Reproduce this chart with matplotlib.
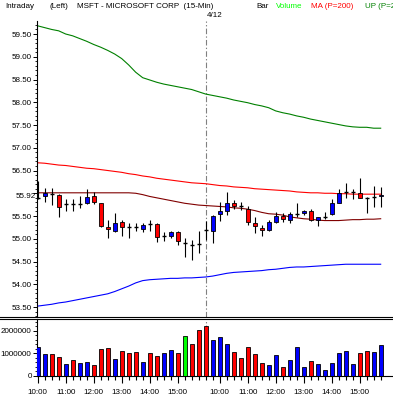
import numpy as np
import matplotlib
matplotlib.use("Agg")
import matplotlib.pyplot as plt
from matplotlib.lines import Line2D
from matplotlib.ticker import MultipleLocator, FixedLocator

plt.rcParams["font.family"] = ["Liberation Sans", "DejaVu Sans"]
plt.rcParams["font.size"] = 5.8

# 15-minute bars, two sessions (4/11 10:00-15:45, 4/12 09:30-15:45)
opens = [55.90, 55.93, 55.99, 55.96, 55.76, 55.76, 55.76, 55.78, 55.94, 55.78,
         55.26, 55.18, 55.36, 55.26, 55.25, 55.21, 55.32, 55.32, 55.05, 55.05,
         55.14, 54.90, 54.86, 54.88, 55.19, 55.18, 55.54, 55.62, 55.78, 55.72,
         55.65, 55.34, 55.24, 55.19, 55.37, 55.49, 55.41, 55.54, 55.56, 55.62,
         55.41, 55.48, 55.54, 55.79, 56.03, 56.02, 56.01, 55.89, 55.92, 55.93]
highs = [56.28, 56.11, 56.12, 55.98, 55.87, 55.88, 55.95, 56.09, 56.02, 55.78,
         55.41, 55.56, 55.41, 55.34, 55.34, 55.34, 55.41, 55.34, 55.14, 55.16,
         55.16, 55.01, 54.97, 55.17, 55.38, 55.52, 55.80, 56.03, 55.85, 55.80,
         55.72, 55.47, 55.30, 55.41, 55.58, 55.56, 55.59, 55.78, 55.63, 55.65,
         55.48, 55.58, 55.87, 56.10, 56.23, 56.09, 56.33, 55.91, 56.15, 56.14]
lows = [55.88, 55.81, 55.75, 55.48, 55.62, 55.62, 55.68, 55.76, 55.76, 55.25,
        55.02, 55.14, 55.05, 55.01, 55.16, 55.14, 55.16, 54.92, 54.94, 55.01,
        54.87, 54.61, 54.53, 54.68, 54.97, 54.90, 55.40, 55.52, 55.66, 55.63,
        55.30, 55.13, 55.07, 55.17, 55.34, 55.37, 55.34, 55.48, 55.52, 55.38,
        55.28, 55.44, 55.52, 55.78, 55.90, 55.87, 55.89, 55.56, 55.70, 55.69]
closes = [55.90, 56.00, 55.99, 55.69, 55.76, 55.76, 55.76, 55.92, 55.80, 55.27,
          55.21, 55.34, 55.26, 55.26, 55.25, 55.30, 55.32, 55.03, 55.05, 55.14,
          54.95, 54.90, 54.86, 54.88, 55.19, 55.50, 55.62, 55.78, 55.73, 55.72,
          55.37, 55.29, 55.19, 55.37, 55.51, 55.43, 55.54, 55.54, 55.62, 55.41,
          55.47, 55.48, 55.78, 56.01, 56.03, 56.02, 55.89, 55.89, 55.92, 55.97]

upper_band = [59.68, 59.64, 59.60, 59.57, 59.50, 59.46, 59.40, 59.34, 59.27, 59.21,
              59.14, 59.06, 58.96, 58.82, 58.66, 58.54, 58.49, 58.44, 58.40, 58.37,
              58.34, 58.31, 58.28, 58.23, 58.18, 58.15, 58.12, 58.09, 58.05, 58.02,
              57.99, 57.95, 57.92, 57.88, 57.81, 57.77, 57.74, 57.70, 57.67, 57.63,
              57.60, 57.57, 57.54, 57.51, 57.48, 57.46, 57.45, 57.45, 57.43, 57.43]
ma200 = [56.67, 56.66, 56.64, 56.62, 56.61, 56.59, 56.57, 56.55, 56.54, 56.52,
         56.50, 56.48, 56.46, 56.43, 56.41, 56.38, 56.36, 56.33, 56.31, 56.29,
         56.27, 56.25, 56.23, 56.22, 56.21, 56.19, 56.17, 56.16, 56.14, 56.13,
         56.12, 56.10, 56.09, 56.08, 56.07, 56.06, 56.05, 56.03, 56.02, 56.01,
         56.01, 56.00, 56.00, 55.99, 55.99, 55.98, 55.98, 55.98, 55.98, 55.98]
mid_ma = [56.01, 56.01, 56.01, 56.01, 56.01, 56.01, 56.01, 56.01, 56.01, 56.01,
          56.01, 56.01, 56.01, 56.01, 56.00, 55.97, 55.93, 55.90, 55.87, 55.84,
          55.81, 55.78, 55.76, 55.74, 55.73, 55.72, 55.71, 55.70, 55.68, 55.67,
          55.65, 55.62, 55.58, 55.55, 55.54, 55.52, 55.48, 55.46, 55.44, 55.43,
          55.41, 55.40, 55.40, 55.40, 55.41, 55.42, 55.42, 55.43, 55.43, 55.44]
lower_band = [53.52, 53.54, 53.56, 53.59, 53.61, 53.64, 53.67, 53.70, 53.73, 53.76,
              53.79, 53.84, 53.90, 53.96, 54.03, 54.08, 54.10, 54.11, 54.12, 54.13,
              54.13, 54.14, 54.14, 54.15, 54.16, 54.18, 54.21, 54.24, 54.26, 54.27,
              54.28, 54.29, 54.30, 54.32, 54.33, 54.35, 54.37, 54.38, 54.38, 54.39,
              54.40, 54.41, 54.42, 54.43, 54.44, 54.44, 54.44, 54.44, 54.44, 54.44]

volume = [1300000, 960000, 960000, 830000, 520000, 700000, 570000, 610000, 480000, 1170000,
          1220000, 740000, 1090000, 1000000, 1040000, 610000, 1000000, 870000, 1000000, 1130000,
          1000000, 1780000, 1430000, 2040000, 2220000, 1570000, 1740000, 1430000, 1040000, 780000,
          1260000, 960000, 570000, 480000, 910000, 390000, 700000, 1300000, 390000, 650000,
          520000, 260000, 570000, 1000000, 1090000, 520000, 1000000, 1090000, 1040000, 1350000]
vol_dir = "uudduduudddudddudduudndd" + "duuudddddu" + "udu" + "uudu" + "uuuuudduuu"

hour_idx = [0, 4, 8, 12, 16, 20, 26, 30, 34, 38, 42, 46]
hour_labels = ["10:00", "11:00", "12:00", "13:00", "14:00", "15:00",
               "10:00", "11:00", "12:00", "13:00", "14:00", "15:00"]
day_break = 24
day_label = "4/12"
last_price = 55.92

BLUE, RED, GREEN = "#0000ff", "#ff0000", "#00ff00"
W, H = 393, 396

fig = plt.figure(figsize=(W / 100, H / 100), dpi=100)


def fx(px):
    return px / W


def fy(py):
    return 1 - py / H


ax = fig.add_axes([fx(36.5), fy(316.7), 1 - fx(36.5), fy(21) - fy(316.7)])
axv = fig.add_axes([fx(36.5), fy(376), 1 - fx(36.5), fy(318.7) - fy(376)])

x = np.arange(len(closes))
o, h, l, c = map(np.array, (opens, highs, lows, closes))

# bands / averages
ax.plot(x, upper_band, color="#008000", lw=0.8)
ax.plot(x, ma200, color=RED, lw=0.8)
ax.plot(x, mid_ma, color="#800000", lw=0.8)
ax.plot(x, lower_band, color=BLUE, lw=0.8)

# candles
bw = 0.62
ax.vlines(x, l, h, color="black", lw=0.8, zorder=3)
up = c > o
dn = c < o
eq = c == o
ax.bar(x[up], (c - o)[up], bottom=o[up], width=bw, color=BLUE,
       edgecolor="black", lw=0.6, zorder=4)
ax.bar(x[dn], (o - c)[dn], bottom=c[dn], width=bw, color=RED,
       edgecolor="black", lw=0.6, zorder=4)
ax.hlines(o[eq], x[eq] - bw / 2, x[eq] + bw / 2, color="black", lw=1.0, zorder=4)

# day separator
for a in (ax, axv):
    a.axvline(day_break, color="#808080", lw=0.8, ls=(0, (5, 2, 1.2, 2)), zorder=1)

ax.set_xlim(-0.17, 50.76)
ax.set_ylim(53.287, 59.786)
yt = np.arange(53.5, 59.6, 0.5)
ax.set_yticks(yt)
# the 56.00 label sits under the last-price marker
ax.set_yticklabels(["" if abs(v - 56.0) < 1e-6 else f"{v:.2f}" for v in yt])
ax.yaxis.set_minor_locator(MultipleLocator(0.1))
ax.set_xticks([])
ax.text(-0.3, last_price, f"{last_price:.2f}", transform=ax.transData,
        ha="right", va="center", fontsize=5.8, clip_on=False)

# volume
vcol = {"u": BLUE, "d": RED, "n": GREEN}
axv.bar(x, volume, width=bw, color=[vcol[d] for d in vol_dir],
        edgecolor="black", lw=0.6, zorder=3)
axv.set_xlim(-0.17, 50.76)
axv.set_ylim(0, 2528000)
axv.set_yticks([0, 1000000, 2000000])
axv.set_yticklabels(["0", "1000000", "2000000"])
axv.yaxis.set_minor_locator(MultipleLocator(200000))
axv.xaxis.set_major_locator(FixedLocator(hour_idx))
axv.set_xticklabels(hour_labels)
axv.xaxis.set_minor_locator(FixedLocator(x))

for a in (ax, axv):
    for s in ("top", "right"):
        a.spines[s].set_visible(False)
    a.spines["left"].set_linewidth(0.8)
    a.tick_params(axis="y", which="major", length=3, width=0.7, pad=0.5)
    a.tick_params(axis="y", which="minor", length=1.5, width=0.6)
ax.spines["bottom"].set_visible(False)
axv.spines["bottom"].set_linewidth(0.8)
axv.tick_params(axis="x", which="major", length=5, width=0.8, pad=4)
axv.tick_params(axis="x", which="minor", length=3.2, width=0.8)

# double separator between panels
for yy in (316.7, 318.9):
    fig.add_artist(Line2D([0, 1], [fy(yy), fy(yy)], color="black", lw=0.8))

# header
hdr_y = fy(6)
fig.text(fx(5), hdr_y, "Intraday", va="center")
fig.text(fx(50), hdr_y, "(Left)", va="center")
fig.text(fx(77), hdr_y, "MSFT - MICROSOFT CORP  (15-Min)", va="center")
fig.text(fx(256), hdr_y, "Bar", va="center")
fig.text(fx(276), hdr_y, "Volume", va="center", color=GREEN)
fig.text(fx(311), hdr_y, "MA (P=200)", va="center", color=RED)
fig.text(fx(365), hdr_y, "UP (P=20)", va="center", color="#008000")
fig.text(fx(207), fy(15.5), day_label, va="center")

fig.savefig("out.png", dpi=100)
